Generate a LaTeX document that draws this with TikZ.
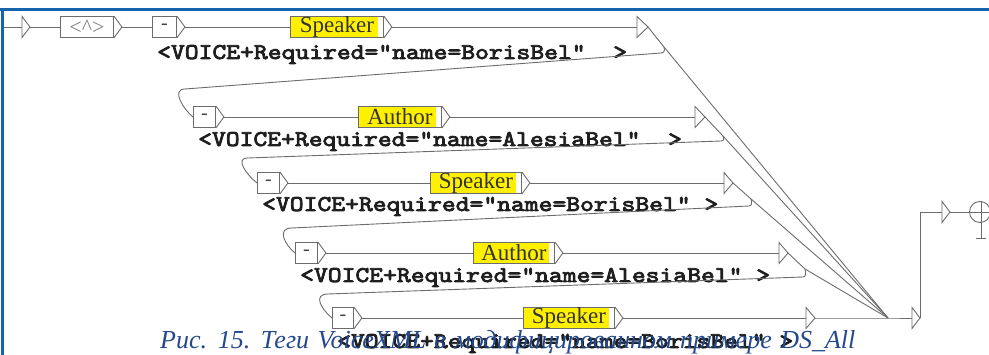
\documentclass[tikz,border=0pt]{standalone}
\usepackage{fontspec}
\setmainfont{Liberation Serif}
\newfontfamily\outfont{lmmono10-regular.otf}[FakeStretch=1.17,FakeBold=3.5]
\usetikzlibrary{calc}

\definecolor{wirec}{RGB}{108,108,108}
\definecolor{frameblue}{RGB}{22,100,172}
\definecolor{capblue}{RGB}{35,72,140}
\definecolor{tagyellow}{RGB}{255,240,0}
\definecolor{outc}{RGB}{30,30,30}

% box with the small output triangle on its right side
\newcommand\ubox[6][]{%
  \node[ubx,#1,minimum width=#5pt,anchor=west] (#2) at (#3,#4) {#6};
  \draw[ubline] (#2.north east) -- ([xshift=8pt]#2.east) coordinate (#2o) -- (#2.south east);
}
% bare triangle (empty box): left x, centre y, width
\newcommand\utri[4]{%
  \coordinate (#1) at (#2,#3);
  \draw[ubline] ([yshift=10.5pt]#1) -- ([xshift=#4pt]#1) coordinate (#1o) -- ([yshift=-10.5pt]#1) -- cycle;
}
% caption with slightly widened word spaces
\newcommand\captext[1]{{\spaceskip=8.5pt plus 1pt\relax #1}}

\begin{document}
\begin{tikzpicture}[x=1pt,y=-1pt,
  wire/.style={draw=wirec,line width=0.9pt},
  ubline/.style={draw=wirec,line width=0.9pt},
  ubx/.style={draw=wirec,line width=0.9pt,fill=white,minimum height=21pt,inner sep=0pt,
    font=\fontsize{20}{20}\selectfont,text=black!75},
  tag/.style={font=\fontsize{23}{23}\selectfont,text=black!80,
    path picture={\fill[tagyellow] (path picture bounding box.south west) rectangle
      ([xshift=-5pt]path picture bounding box.north east);}},
  outtxt/.style={font=\fontsize{22.5}{22.5}\selectfont\outfont,text=outc,
    inner sep=0pt,anchor=base west},
  captxt/.style={font=\fontsize{26}{26}\selectfont\itshape,text=capblue,
    inner sep=0pt,anchor=base west}]

\useasboundingbox (0,0) rectangle (989,355);

% frame
\draw[frameblue,line width=3pt] (0,10) -- (989,10);
\draw[frameblue,line width=3pt] (2,8.5) -- (2,355);

% entry
\coordinate (start) at (3.5,27);
\utri{init}{22}{27}{8}
\ubox[font=\fontsize{22}{22}\selectfont]{hat}{60}{27}{53}{\textcolor{black!50}{\textless\textasciicircum\textgreater}}

% row 1
\ubox{d1}{152}{27}{24}{-}
\ubox[tag]{s1}{290}{27}{93}{Speaker}
\utri{e1}{637}{27}{11}
% row 2
\ubox{d2}{193}{117}{22}{-}
\ubox[tag]{a2}{358}{117}{83}{Author}
\utri{e2}{695}{117}{10}
% row 3
\ubox{d3}{257}{183}{22}{-}
\ubox[tag]{s3}{430}{183}{91}{Speaker}
\utri{e3}{724}{183}{9}
% row 4
\ubox{d4}{295}{253}{22}{-}
\ubox[tag]{a4}{473}{253}{81}{Author}
\utri{e4}{779}{253}{9}
% row 5
\ubox{d5}{332}{318}{21}{-}
\ubox[tag]{s5}{523}{318}{91}{Speaker}
\utri{e5}{806}{318}{9}

% outputs
\node[outtxt] (o1) at (157,59) {<VOICE+Required="name=BorisBel"~~>};
\node[outtxt] (o2) at (198,146) {<VOICE+Required="name=AlesiaBel"~~>};
\node[outtxt] (o3) at (262,211) {<VOICE+Required="name=BorisBel"~>};
\node[outtxt] (o4) at (300,282) {<VOICE+Required="name=AlesiaBel"~>};
\node[outtxt] (o5) at (337,348) {<VOICE+Required="name=BorisBel"~>};

% horizontal connections
\draw[wire] (start) -- (init);
\draw[wire] (inito) -- (hat);
\draw[wire] (hato) -- (d1);
\draw[wire] (d1o) -- (s1);  \draw[wire] (s1o) -- (e1);
\draw[wire] (d2o) -- (a2);  \draw[wire] (a2o) -- (e2);
\draw[wire] (d3o) -- (s3);  \draw[wire] (s3o) -- (e3);
\draw[wire] (d4o) -- (a4);  \draw[wire] (a4o) -- (e4);
\draw[wire] (d5o) -- (s5);  \draw[wire] (s5o) -- (e5);

% merge and exit
\coordinate (m) at (888,318);
\utri{f1}{912}{318}{8}
\utri{f2}{942}{212}{8}
\node[circle,draw=wirec,line width=0.9pt,minimum size=21pt,inner sep=0pt] (fin) at (980,212) {};
\draw[wire] (fin.west) -- (fin.east);
\draw[wire] (981,201) -- (981,238);
\draw[wire] (976,238) -- (986,238);

% turning points of the back links
\coordinate (h1a) at (664,47);  \coordinate (h1b) at (661,53);
\coordinate (h2a) at (723,136); \coordinate (h2b) at (721,141);
\coordinate (h3a) at (751,199); \coordinate (h3b) at (749,206);
\coordinate (h4a) at (805,269); \coordinate (h4b) at (803,277);
\coordinate (c1) at (185,89);
\coordinate (c2) at (248,158);
\coordinate (c3) at (292,228);
\coordinate (c4) at (328,294);

% back links to the next row
\draw[wire] (e1o) -- (h1a) .. controls +(1,4) and +(3,0) .. (h1b) -- (c1)
  .. controls +(-14,0) and +(-10,-8) .. (d2.west);
\draw[wire] (e2o) -- (h2a) .. controls +(1,3) and +(3,0) .. (h2b) -- (c2)
  .. controls +(-14,0) and +(-10,-8) .. (d3.west);
\draw[wire] (e3o) -- (h3a) .. controls +(1,4) and +(3,0) .. (h3b) -- (c3)
  .. controls +(-16,0) and +(-10,-8) .. (d4.west);
\draw[wire] (e4o) -- (h4a) .. controls +(1,4) and +(3,0) .. (h4b) -- (c4)
  .. controls +(-16,0) and +(-10,-8) .. (d5.west);

% links to the common exit
\draw[wire] (h1a) -- (m);
\draw[wire] (h2a) -- (m);
\draw[wire] (h3a) -- (m);
\draw[wire] (h4a) -- (m);
\draw[wire] (e5o) -- (m) -- (f1);
\draw[wire] (f1o) -- (920,212) -- (f2);
\draw[wire] (f2o) -- (fin.west);

% caption
\node[captxt] (cap) at (160,349) {\captext{Рис. 15. Теги VoiceXML в модифицированном примере DS\_All}};
\end{tikzpicture}
\end{document}
